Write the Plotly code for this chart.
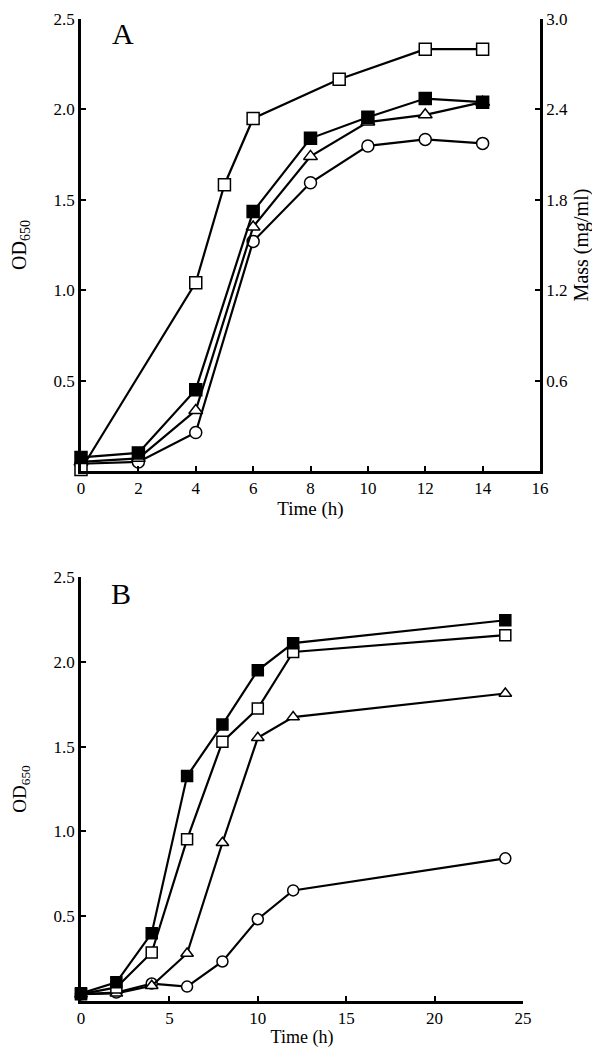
import plotly.graph_objects as go

# ---------------- Panel A data ----------------
time_a = [0, 2, 4, 6, 8, 10, 12, 14]
a_filled_sq = [0.075, 0.10, 0.45, 1.435, 1.84, 1.957, 2.06, 2.04]
a_triangle = [0.05, 0.07, 0.335, 1.35, 1.74, 1.93, 1.97, 2.04]
a_circle = [0.04, 0.05, 0.213, 1.27, 1.594, 1.798, 1.834, 1.812]
time_a_mass = [0, 4, 5, 6, 9, 12, 14]
a_mass_open_sq = [0.01, 1.25, 1.90, 2.34, 2.60, 2.80, 2.80]

# ---------------- Panel B data ----------------
time_b = [0, 2, 4, 6, 8, 10, 12, 24]
b_filled_sq = [0.045, 0.11, 0.40, 1.326, 1.63, 1.95, 2.11, 2.245]
b_open_sq = [0.04, 0.08, 0.286, 0.953, 1.528, 1.724, 2.058, 2.157]
b_triangle = [0.04, 0.045, 0.09, 0.28, 0.933, 1.552, 1.674, 1.813]
b_circle = [0.04, 0.05, 0.103, 0.085, 0.233, 0.482, 0.652, 0.841]

a_xticks = [0, 2, 4, 6, 8, 10, 12, 14, 16]
a_yticks = [0.5, 1.0, 1.5, 2.0, 2.5]
a_y2ticks = [0.6, 1.2, 1.8, 2.4, 3.0]
b_xticks = [0, 5, 10, 15, 20, 25]
b_yticks = [0.5, 1.0, 1.5, 2.0, 2.5]

FONT = "Liberation Serif, Times New Roman, serif"

fig = go.Figure()


def add(x, y, symbol, fill, xa, ya, size=12):
    fig.add_trace(go.Scatter(
        x=x, y=y, xaxis=xa, yaxis=ya, mode="lines+markers",
        line=dict(color="black", width=2.2),
        marker=dict(symbol=symbol, size=size, color=fill,
                    line=dict(color="black", width=1.5)),
        showlegend=False, cliponaxis=False))


# Panel A
add(time_a, a_circle, "circle", "white", "x", "y")
add(time_a, a_triangle, "triangle-up", "white", "x", "y")
add(time_a, a_filled_sq, "square", "black", "x", "y")
add(time_a_mass, a_mass_open_sq, "square", "white", "x", "y3")

# Panel B
add(time_b, b_circle, "circle", "white", "x2", "y2", 11)
add(time_b, b_triangle, "triangle-up", "white", "x2", "y2", 11)
add(time_b, b_open_sq, "square", "white", "x2", "y2", 11)
add(time_b, b_filled_sq, "square", "black", "x2", "y2", 11)

axis_common = dict(showgrid=False, zeroline=False, showline=True,
                   linecolor="black", linewidth=2.5, ticks="inside",
                   ticklen=5, tickwidth=2, tickcolor="black", automargin=False,
                   ticklabeloverflow="allow",
                   tickfont=dict(family=FONT, size=17, color="black"))

# plot area: x 73..532 px, y 11..993 px
TOP = 11
H = 993 - TOP
yA0 = (993 - 463) / H
yB1 = (993 - 569) / H
xB1 = (515 - 73) / 459

fig.update_layout(
    width=600, height=1048,
    margin=dict(l=73, r=68, t=TOP, b=55),
    paper_bgcolor="white", plot_bgcolor="white",
    font=dict(family=FONT, color="black"),
    xaxis=dict(domain=[0, 1], anchor="y", range=[0, 16], tickvals=a_xticks,
               title=dict(text="Time (h)", font=dict(family=FONT, size=19), standoff=4),
               **axis_common),
    yaxis=dict(domain=[yA0, 1], anchor="x", range=[0, 2.5], tickvals=a_yticks,
               ticktext=["0.5", "1.0", "1.5", "2.0", "2.5"],
               title=dict(text="OD<sub>650</sub>", font=dict(family=FONT, size=20), standoff=22),
               **axis_common),
    yaxis3=dict(overlaying="y", side="right", anchor="x", range=[0, 3.0],
                tickvals=a_y2ticks, ticktext=["0.6", "1.2", "1.8", "2.4", "3.0"],
                title=dict(text="Mass (mg/ml)", font=dict(family=FONT, size=20), standoff=8),
                **axis_common),
    xaxis2=dict(domain=[0, xB1], anchor="y2", range=[0, 25], tickvals=b_xticks,
                title=dict(text="Time (h)", font=dict(family=FONT, size=18), standoff=4),
                **axis_common),
    yaxis2=dict(domain=[0, yB1], anchor="x2", range=[0, 2.5], tickvals=b_yticks,
                ticktext=["0.5", "1.0", "1.5", "2.0", "2.5"],
                title=dict(text="OD<sub>650</sub>", font=dict(family=FONT, size=19), standoff=22),
                **axis_common),
    annotations=[
        dict(text="A", x=1.0, y=2.42, xref="x", yref="y", showarrow=False,
             xanchor="left", yanchor="middle",
             font=dict(family=FONT, size=30, color="black")),
        dict(text="B", x=1.6, y=2.4, xref="x2", yref="y2", showarrow=False,
             xanchor="left", yanchor="middle",
             font=dict(family=FONT, size=30, color="black")),
    ],
)

fig.write_html("out.html")
